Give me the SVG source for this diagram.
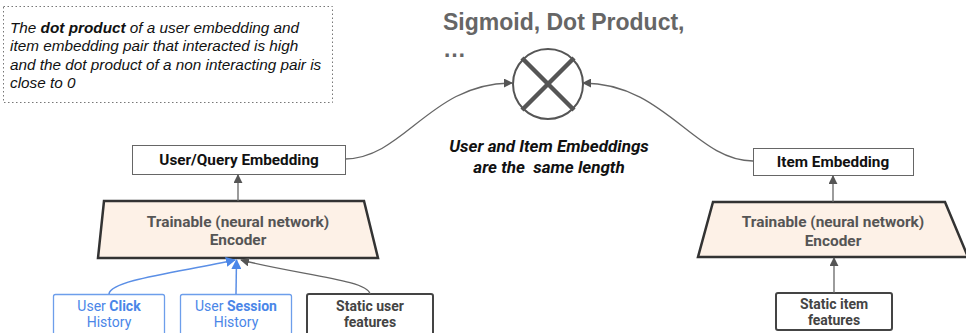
<svg xmlns="http://www.w3.org/2000/svg" width="966" height="333" viewBox="0 0 966 333">
<style>
.note{font-family:"Liberation Sans",Arial,sans-serif;font-size:15.3px;font-style:italic;fill:#111}
.title{font-family:"Liberation Sans",Arial,sans-serif;font-size:23px;font-weight:bold;fill:#666}
.mid{font-family:Roboto,"Liberation Sans",sans-serif;font-size:17px;font-weight:bold;font-style:italic;fill:#111;white-space:pre}
.lbl{font-family:Roboto,"Liberation Sans",sans-serif;font-size:15.3px;font-weight:bold;fill:#111}
.enc{font-family:Roboto,"Liberation Sans",sans-serif;font-size:15.4px;font-weight:bold;fill:#555}
.feat{font-family:Roboto,"Liberation Sans",sans-serif;font-size:14px;font-weight:bold;fill:#444}
.blue{font-family:Roboto,"Liberation Sans",sans-serif;font-size:14px;fill:#4a86e8}
.box{fill:#fff;stroke:#666;stroke-width:1}
.trap{fill:#fdf1e7;stroke:#333;stroke-width:2.5}
.fbox{fill:#fff;stroke:#444;stroke-width:2}
.bbox{fill:#fff;stroke:#6d9eeb;stroke-width:1.3}
.con{fill:none;stroke:#666;stroke-width:1.3}
.conb{fill:none;stroke:#5b8fe6;stroke-width:1.5}
</style>
<defs>
<marker id="ah" viewBox="0 0 10 10" refX="9" refY="5" markerWidth="9" markerHeight="9" markerUnits="userSpaceOnUse" orient="auto"><path d="M0,0 L10,5 L0,10 z" fill="#555"/></marker>
<marker id="ahb" viewBox="0 0 10 10" refX="9" refY="5" markerWidth="10" markerHeight="10" markerUnits="userSpaceOnUse" orient="auto"><path d="M0,0 L10,5 L0,10 z" fill="#4a86e8"/></marker>
</defs>
<g id="note">
<rect x="3.5" y="6.5" width="329" height="96" fill="#fff" stroke="#777" stroke-width="1" stroke-dasharray="1.5,2.5"/>
<text class="note" x="10" y="33">The <tspan font-weight="bold">dot product</tspan> of a user embedding and</text>
<text class="note" x="10" y="51">item embedding pair that interacted is high</text>
<text class="note" x="10" y="70">and the dot product of a non interacting pair is</text>
<text class="note" x="10" y="88">close to 0</text>
</g>
<g id="title">
<text class="title" x="443" y="30">Sigmoid, Dot Product,</text>
<text class="title" x="443" y="57">…</text>
</g>
<g id="op">
<circle cx="548" cy="84" r="35" fill="#fff" stroke="#555" stroke-width="2"/>
<line x1="522" y1="58" x2="574" y2="110" stroke="#555" stroke-width="4.5"/>
<line x1="574" y1="58" x2="522" y2="110" stroke="#555" stroke-width="4.5"/>
</g>
<g id="midlabel">
<text class="mid" x="549" y="152" text-anchor="middle">User and Item Embeddings</text>
<text class="mid" x="549" y="173" text-anchor="middle" xml:space="preserve">are the  same length</text>
</g>
<g id="userEmb">
<rect class="box" x="132.5" y="145.5" width="213" height="29"/>
<text class="lbl" x="239" y="165" text-anchor="middle">User/Query Embedding</text>
</g>
<g id="userEnc">
<polygon class="trap" points="104,201 364,201 378,258 98,258"/>
<text class="enc" x="238" y="227" text-anchor="middle">Trainable (neural network)</text>
<text class="enc" x="238" y="245" text-anchor="middle">Encoder</text>
</g>
<g id="clickHist">
<rect class="bbox" x="53.5" y="294.5" width="111" height="40" rx="2"/>
<text class="blue" x="109" y="311" text-anchor="middle">User <tspan font-weight="bold">Click</tspan></text>
<text class="blue" x="109" y="327" text-anchor="middle">History</text>
</g>
<g id="sessionHist">
<rect class="bbox" x="180.5" y="294.5" width="111" height="40" rx="2"/>
<text class="blue" x="236" y="311" text-anchor="middle">User <tspan font-weight="bold">Session</tspan></text>
<text class="blue" x="236" y="327" text-anchor="middle">History</text>
</g>
<g id="staticUser">
<rect class="fbox" x="307" y="294" width="126" height="42" rx="2"/>
<text class="feat" x="370" y="311" text-anchor="middle">Static user</text>
<text class="feat" x="370" y="327" text-anchor="middle">features</text>
</g>
<g id="itemEmb">
<rect class="box" x="753.5" y="148.5" width="160" height="27"/>
<text class="lbl" x="833" y="167" text-anchor="middle">Item Embedding</text>
</g>
<g id="itemEnc">
<polygon class="trap" points="713,202 945,202 968,257 698,257"/>
<text class="enc" x="833" y="227" text-anchor="middle">Trainable (neural network)</text>
<text class="enc" x="833" y="246" text-anchor="middle">Encoder</text>
</g>
<g id="staticItem">
<rect class="fbox" x="776" y="293" width="116" height="37" rx="2"/>
<text class="feat" x="834" y="309" text-anchor="middle">Static item</text>
<text class="feat" x="834" y="325" text-anchor="middle">features</text>
</g>
<g id="connectors">
<path class="con" d="M345,159 C405,158 430,83 512,83" marker-end="url(#ah)"/>
<path class="con" d="M753,161 C695,161 665,83 583,83" marker-end="url(#ah)"/>
<line class="con" x1="238" y1="201" x2="238" y2="175" marker-end="url(#ah)"/>
<line class="con" x1="833" y1="202" x2="833" y2="176" marker-end="url(#ah)"/>
<line class="con" x1="834" y1="293" x2="834" y2="258" marker-end="url(#ah)"/>
<path class="conb" d="M109,294 C110,280 180,272 235,260" marker-end="url(#ahb)"/>
<line class="conb" x1="236" y1="294" x2="236.5" y2="260" marker-end="url(#ahb)"/>
<path class="con" d="M370,294 C368,280 300,275 241,260" marker-end="url(#ah)"/>
</g>
</svg>
